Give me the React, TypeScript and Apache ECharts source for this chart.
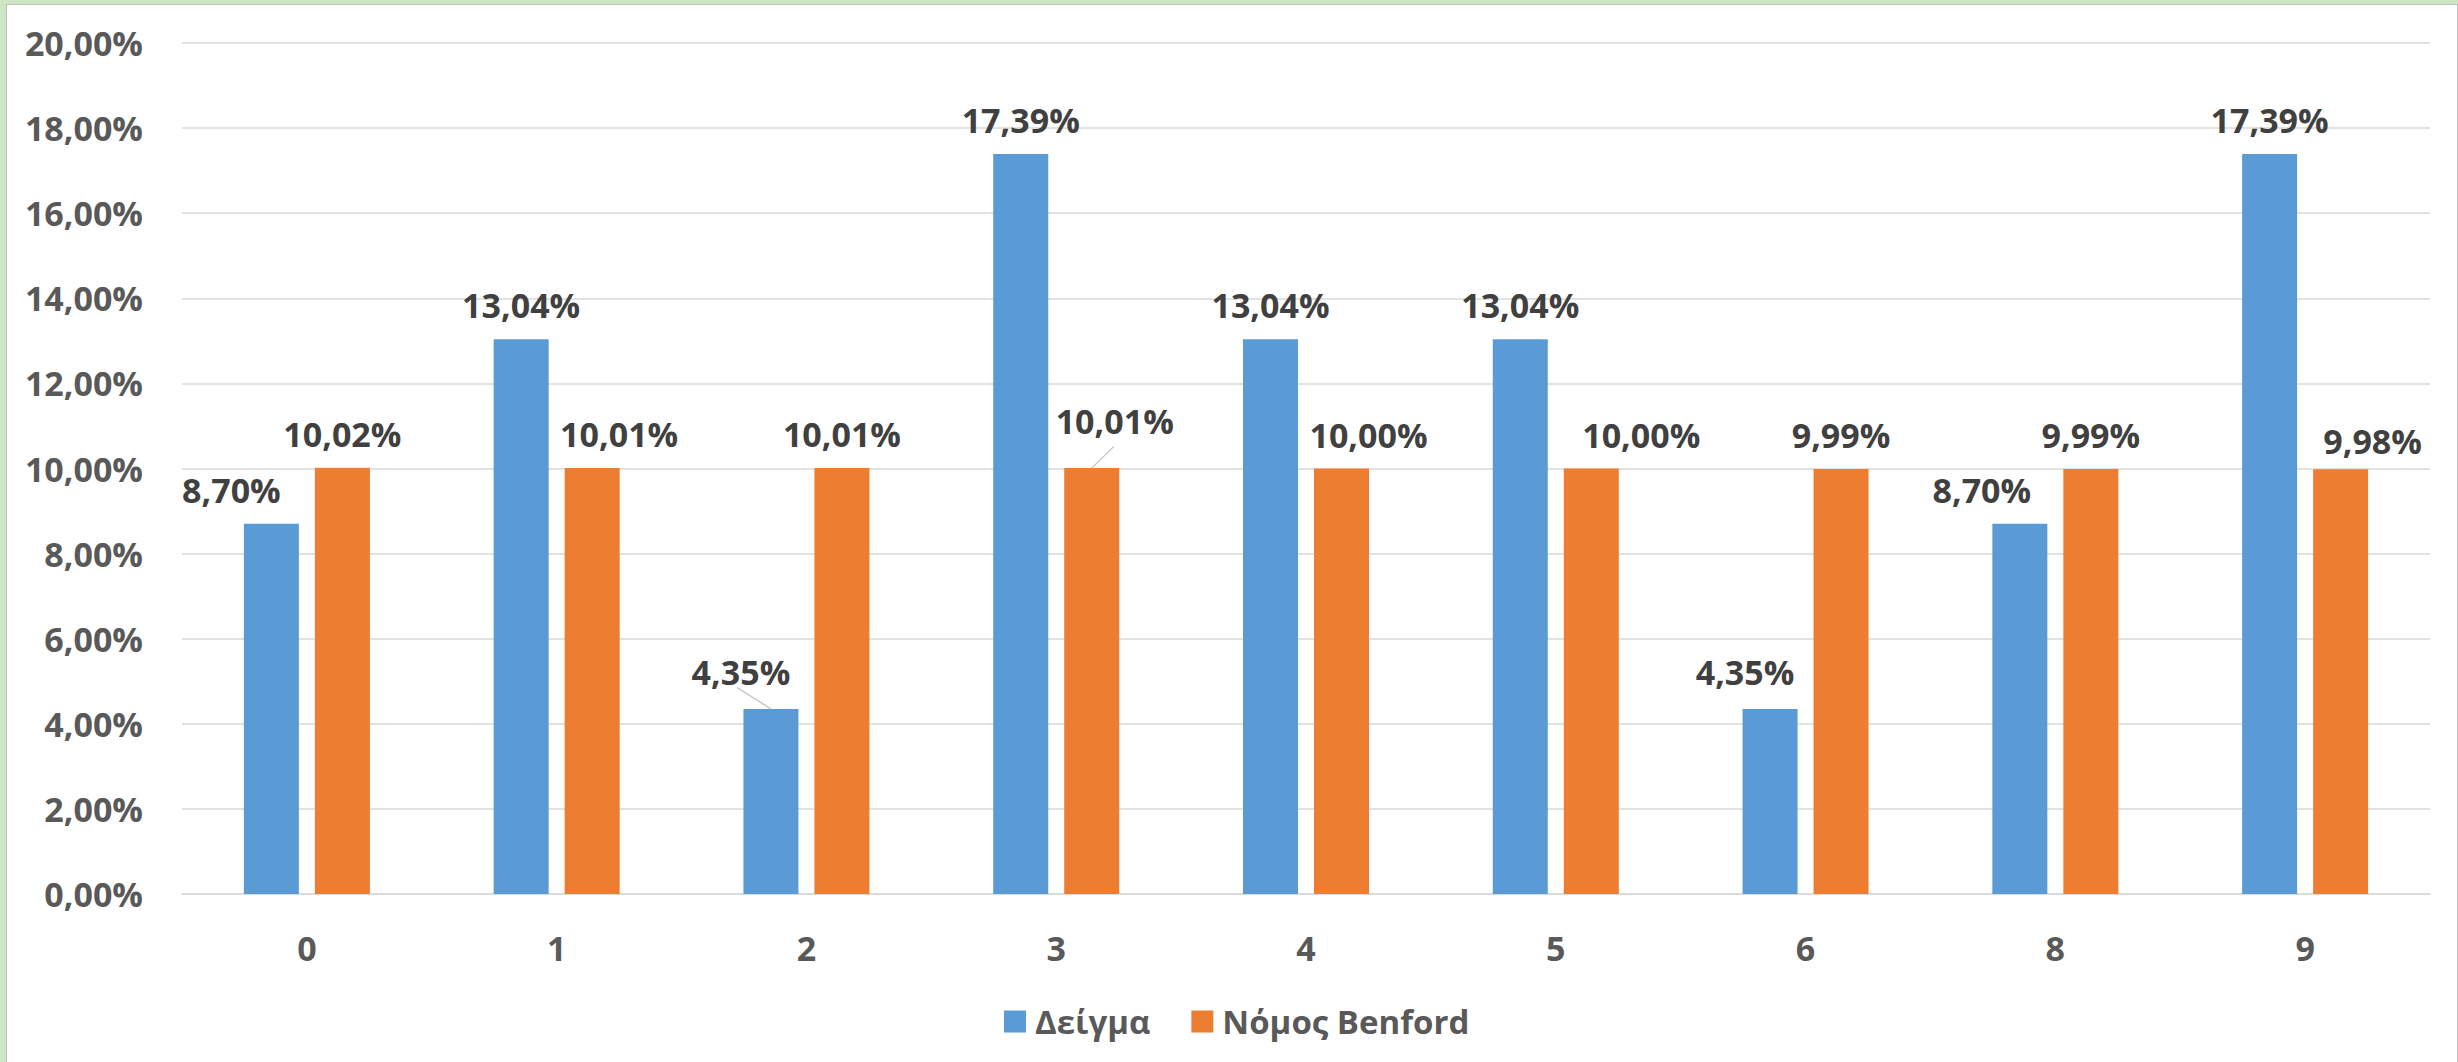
import React, { useEffect, useRef } from "react";
import * as echarts from "echarts";

const categories = ["0", "1", "2", "3", "4", "5", "6", "8", "9"];
const sampleValues = [8.7, 13.04, 4.35, 17.39, 13.04, 13.04, 4.35, 8.7, 17.39];
const benfordValues = [10.02, 10.01, 10.01, 10.01, 10.0, 10.0, 9.99, 9.99, 9.98];
const seriesNames = ["Δείγμα", "Νόμος Benford"];
const yTicks = { min: 0, max: 20, interval: 2 };

// label placement tweaks (style, not data)
const sampleLabelShift: [number, number][] = [
  [-40, 0], [0, 0], [-30, -3], [0, 0], [0, 0], [0, 0], [-25, -3], [-38, 0], [0, 0],
];
const benfordLabelShift: [number, number][] = [
  [0, 0], [27, 0], [0, 0], [23, -13], [27, 0], [50, 0], [0, 0], [0, 0], [32, 6],
];
// leader lines: [seriesIndex, categoryIndex, horizontal offset of the line's far end]
const leaderLines: [number, number, number][] = [
  [0, 2, -34],
  [1, 3, 22],
];

const BAR_W = 55;
const BAR_GAP = 16;
const FONT = "'Open Sans', 'Noto Sans', sans-serif";
const fmt = (v: number) => v.toFixed(2).replace(".", ",") + "%";

export default function App() {
  const ref = useRef<HTMLDivElement>(null);
  useEffect(() => {
    document.body.style.margin = "0";
    if (!ref.current) return;
    const chart = echarts.init(ref.current, undefined, { renderer: "svg" });
    const labelCommon = {
      show: true,
      position: "top" as const,
      distance: 17,
      fontFamily: FONT,
      fontWeight: "bold" as const,
      fontSize: 34,
      lineHeight: 34,
      color: "#404040",
      formatter: (p: any) => fmt(p.value),
    };
    const makeLayout = (shift: [number, number][]) => (p: any) => ({
      dx: shift[p.dataIndex][0],
      dy: shift[p.dataIndex][1],
    });
    const allValues = [sampleValues, benfordValues];
    const leaderData = leaderLines.map(([s, c, off]) => [c, allValues[s][c], s, off]);
    chart.setOption({
      animation: false,
      backgroundColor: "transparent",
      grid: { left: 182, right: 28, top: 43, bottom: 168, containLabel: false },
      legend: {
        left: 999,
        top: 1000,
        itemWidth: 22,
        itemHeight: 22,
        itemGap: 41,
        icon: "rect",
        textStyle: {
          fontFamily: FONT,
          fontWeight: "bold",
          fontSize: 33,
          color: "#595959",
          padding: [0, 0, 0, 4],
        },
        data: seriesNames,
      },
      xAxis: {
        type: "category",
        data: categories,
        axisLine: { show: true, lineStyle: { color: "#d9d9d9", width: 1.5 } },
        axisTick: { show: false },
        axisLabel: {
          margin: 37,
          fontFamily: FONT,
          fontWeight: "bold",
          fontSize: 34,
          color: "#595959",
        },
      },
      yAxis: {
        type: "value",
        min: yTicks.min,
        max: yTicks.max,
        interval: yTicks.interval,
        axisLine: { show: false },
        axisTick: { show: false },
        splitLine: { lineStyle: { color: "#d9d9d9", width: 1.5 } },
        axisLabel: {
          margin: 39,
          fontFamily: FONT,
          fontWeight: "bold",
          fontSize: 34,
          color: "#595959",
          formatter: (v: number) => fmt(v),
        },
      },
      series: [
        {
          name: seriesNames[0],
          type: "bar",
          barWidth: BAR_W,
          barGap: (BAR_GAP / BAR_W) * 100 + "%",
          itemStyle: { color: "#5b9bd5" },
          label: labelCommon,
          labelLayout: makeLayout(sampleLabelShift),
          data: sampleValues,
        },
        {
          name: seriesNames[1],
          type: "bar",
          barWidth: BAR_W,
          barGap: (BAR_GAP / BAR_W) * 100 + "%",
          itemStyle: { color: "#ed7d31" },
          label: labelCommon,
          labelLayout: makeLayout(benfordLabelShift),
          data: benfordValues,
        },
        {
          type: "custom",
          silent: true,
          z: 5,
          data: leaderData,
          renderItem: (params: any, api: any) => {
            const c = api.value(0);
            const v = api.value(1);
            const s = api.value(2);
            const off = api.value(3);
            const pt = api.coord([c, v]);
            const half = (BAR_W + BAR_GAP) / 2;
            const bx = pt[0] + (s === 0 ? -half : half);
            const by = pt[1];
            return {
              type: "line",
              shape: { x1: bx + off, y1: by - 21.5, x2: bx, y2: by },
              style: { stroke: "#bfbfbf", lineWidth: 1.2 },
            };
          },
        },
      ],
    });
    return () => chart.dispose();
  }, []);

  return (
    <div
      style={{
        position: "fixed",
        left: 0,
        top: 0,
        width: 2458,
        height: 1062,
        background: "#cfe6c6",
        overflow: "hidden",
      }}
    >
      <div
        style={{
          position: "absolute",
          left: 6,
          top: 4,
          width: 2450,
          height: 1070,
          background: "#ffffff",
          borderLeft: "1px solid #bfbfbf",
          borderTop: "1px solid #bfbfbf",
          borderRight: "1px solid #bfbfbf",
        }}
      />
      <div
        ref={ref}
        style={{ position: "absolute", left: 0, top: 0, width: 2458, height: 1062 }}
      />
    </div>
  );
}
